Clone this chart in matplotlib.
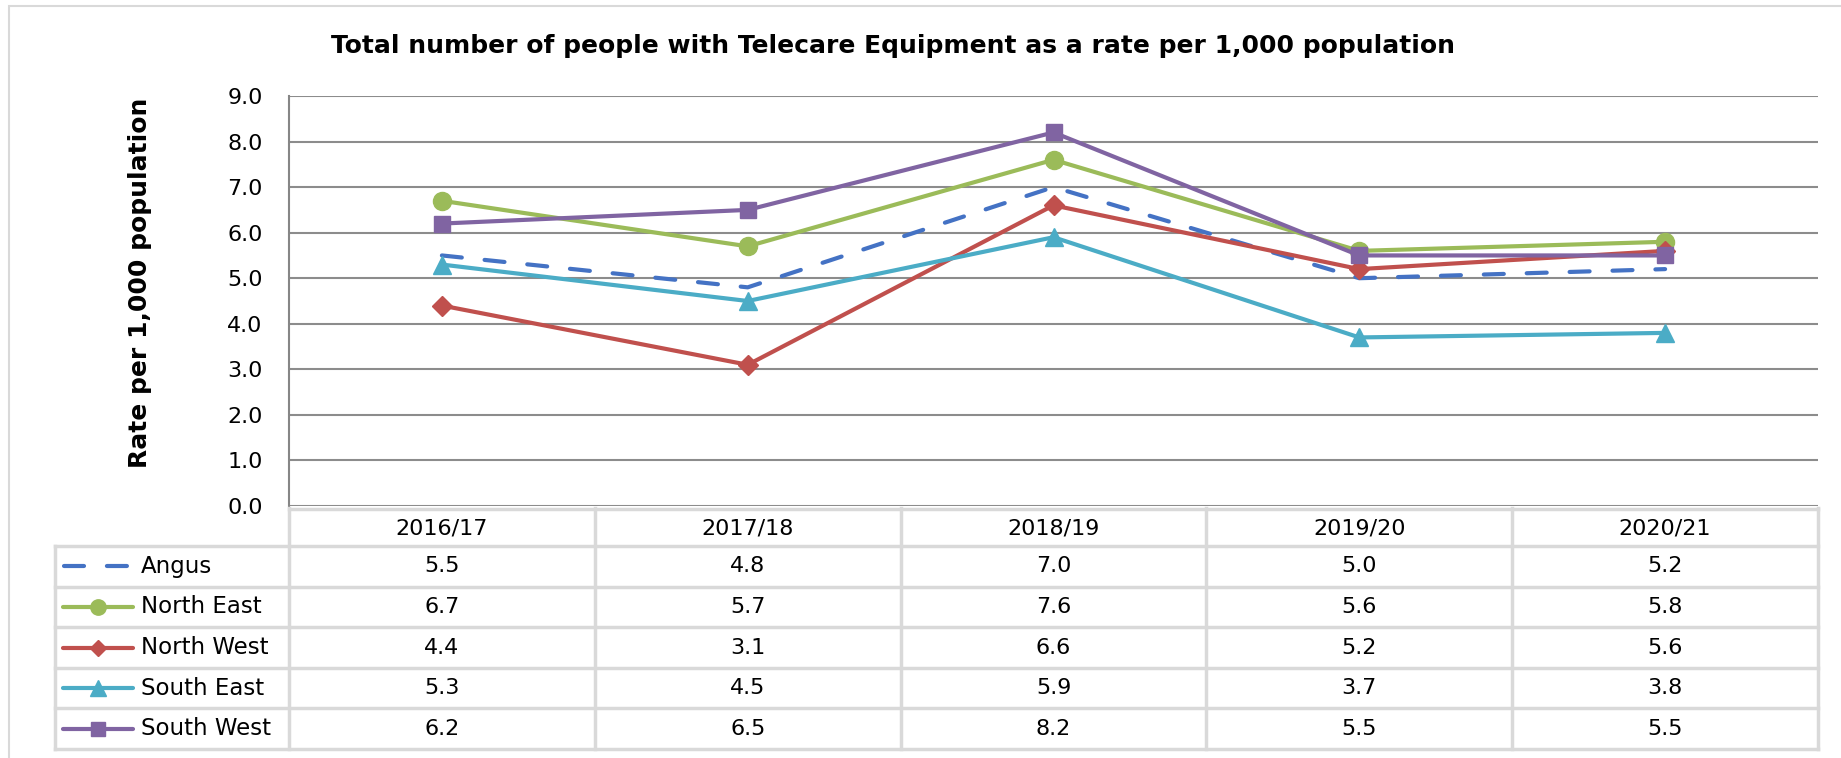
"""Telecare equipment rate per 1,000 population - line chart with data table"""
import matplotlib
matplotlib.use("Agg")
import matplotlib.pyplot as plt
from matplotlib.patches import Rectangle

plt.rcParams['font.family'] = ['DejaVu Sans']

# data
years = ["2016/17", "2017/18", "2018/19", "2019/20", "2020/21"]
areas = ["Angus", "North East", "North West", "South East", "South West"]
angus = [5.5, 4.8, 7.0, 5.0, 5.2]
north_east = [6.7, 5.7, 7.6, 5.6, 5.8]
north_west = [4.4, 3.1, 6.6, 5.2, 5.6]
south_east = [5.3, 4.5, 5.9, 3.7, 3.8]
south_west = [6.2, 6.5, 8.2, 5.5, 5.5]
y_ticks = [0, 1, 2, 3, 4, 5, 6, 7, 8, 9]

series = [angus, north_east, north_west, south_east, south_west]
colors = ["#4472C4", "#9BBB59", "#C0504D", "#4BACC6", "#8064A2"]
markers = [None, "o", "D", "^", "s"]
msizes = [0, 13, 10, 13, 12]
DASH = (4.8, 5.5)
FS = 16

W, H = 1841, 758
fig = plt.figure(figsize=(W / 100, H / 100), dpi=100)

# 外枠
fig.patches.append(Rectangle((9 / W, -0.1), 1.2, 1 - 6 / H + 0.1,
                             transform=fig.transFigure, fill=False,
                             edgecolor="#d9d9d9", lw=1.5))

# plot area (pixel box -> figure fraction)
left, right, top, bottom = 289, 1818, 96, 506
ax = fig.add_axes([left / W, 1 - bottom / H, (right - left) / W, (bottom - top) / H])
x = list(range(len(years)))
ax.set_xlim(-0.5, len(years) - 0.5)
ax.set_ylim(0, 9)
ax.set_yticks(y_ticks)
ax.set_yticklabels([f"{v:.1f}" for v in y_ticks], fontsize=FS)
ax.tick_params(axis="y", length=0, pad=19)
ax.set_xticks([])
for s in ["top", "right", "bottom"]:
    ax.spines[s].set_visible(False)
ax.spines["left"].set_color("#868686")
ax.spines["left"].set_linewidth(1.5)
for v in y_ticks:
    ax.axhline(v, color="#8c8c8c", lw=1.5, zorder=1)

for vals, c, m, ms, name in zip(series, colors, markers, msizes, areas):
    if m is None:
        ax.plot(x, vals, color=c, lw=3, dashes=DASH, dash_capstyle="round",
                zorder=3, label=name)
    else:
        ax.plot(x, vals, color=c, lw=3, marker=m, markersize=ms, zorder=3, label=name)

fig.text(893 / W, 1 - 46 / H,
         "Total number of people with Telecare Equipment as a rate per 1,000 population",
         ha="center", va="center", fontsize=18, fontweight="bold")
fig.text(140 / W, 1 - 283 / H, "Rate per 1,000 population", rotation=90,
         ha="center", va="center", fontsize=18, fontweight="bold")

# data table below the plot
t_left, t_top, t_bottom = 55, 508, 749
col_w = (right - left) / len(years)
leg_w = (left - t_left) / col_w
tax = fig.add_axes([t_left / W, 1 - t_bottom / H, (right - t_left) / W, (t_bottom - t_top) / H])
tax.set_xlim(-0.5 - leg_w, len(years) - 0.5)
tax_h = t_bottom - t_top
tax.set_ylim(tax_h, 0)
tax.axis("off")

head_h = 38
row_h = (tax_h - head_h) / len(areas)
gc = "#d9d9d9"
x0 = -0.5 - leg_w
x1 = len(years) - 0.5
tax.plot([-0.5, x1], [1, 1], color=gc, lw=2.5, clip_on=False)
for i in range(len(areas) + 1):
    yy = head_h + i * row_h
    tax.plot([x0, x1], [yy, yy], color=gc, lw=2.5, clip_on=False)
tax.plot([x0, x0], [head_h, tax_h], color=gc, lw=2.5, clip_on=False)
for k in range(len(years) + 1):
    tax.plot([k - 0.5, k - 0.5], [0, tax_h], color=gc, lw=2.5, clip_on=False)

for k, yr in enumerate(years):
    tax.text(k, head_h / 2 + 1, yr, ha="center", va="center", fontsize=FS)

px = 1 / col_w
for i, (name, vals, c, m, ms) in enumerate(zip(areas, series, colors, markers, msizes)):
    yc = head_h + (i + 0.5) * row_h
    if m is None:
        lx0 = x0 + 9 * px
        lx1 = x0 + 73 * px
        tax.plot([lx0, lx1], [yc, yc], color=c, lw=3, dashes=DASH,
                 dash_capstyle="round")
    else:
        lx0 = x0 + 8 * px
        lx1 = x0 + 78 * px
        tax.plot([lx0, lx1], [yc, yc], color=c, lw=3, solid_capstyle="round")
        tax.plot([(lx0 + lx1) / 2], [yc], color=c, marker=m, markersize=ms * 0.85)
    tax.text(x0 + 86 * px, yc, name, ha="left", va="center", fontsize=FS + 0.5)
    for k, v in enumerate(vals):
        tax.text(k, yc, f"{v:.1f}", ha="center", va="center", fontsize=FS)

fig.savefig("out.png", dpi=100)
